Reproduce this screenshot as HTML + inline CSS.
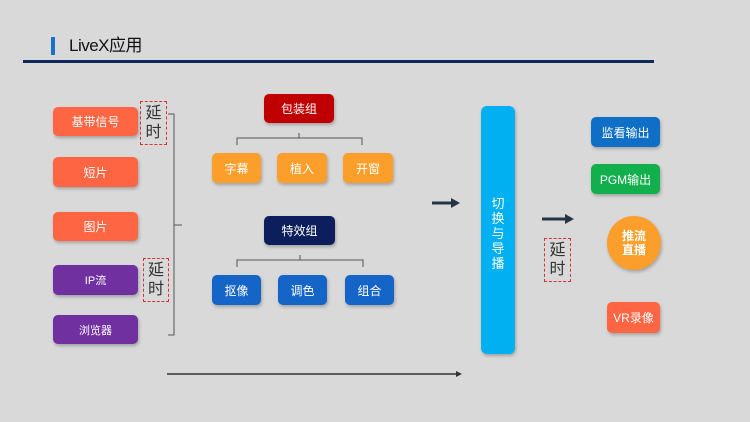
<!DOCTYPE html>
<html><head><meta charset="utf-8">
<style>
*{margin:0;padding:0;box-sizing:border-box}
body{width:750px;height:422px;background:#d9d9d9;position:relative;overflow:hidden;font-family:"Liberation Sans","Noto Sans CJK SC",sans-serif}
.b{position:absolute;display:flex;align-items:center;justify-content:center;color:#fff;border-radius:5px;font-size:12px;box-shadow:1px 2px 3px rgba(0,0,0,0.25)}
.d{position:absolute;border:1.5px dashed #d0333a;color:#333;font-size:16px;display:flex;align-items:center;justify-content:center;text-align:center;line-height:19px}
.o{background:#fe6542}.p{background:#7030a0;font-size:11px}.y{background:#fb9e2b}.bl{background:#1565c8}
</style></head><body>
<div style="position:absolute;left:51px;top:37px;width:4px;height:18px;background:#1873c6"></div>
<div style="position:absolute;left:69px;top:35px;font-size:17px;color:#111;line-height:22px;letter-spacing:-0.5px">LiveX应用</div>
<div style="position:absolute;left:23px;top:60px;width:631px;height:3px;background:#0d2a5c"></div>

<div class="b o" style="left:53px;top:107px;width:85px;height:29px">基带信号</div>
<div class="b o" style="left:53px;top:157px;width:85px;height:30px">短片</div>
<div class="b o" style="left:53px;top:212px;width:85px;height:29px">图片</div>
<div class="b p" style="left:53px;top:265px;width:85px;height:30px">IP流</div>
<div class="b p" style="left:53px;top:315px;width:85px;height:29px">浏览器</div>
<div class="d" style="left:140px;top:101px;width:27px;height:44px">延<br>时</div>
<div class="d" style="left:143px;top:258px;width:26px;height:44px">延<br>时</div>

<div class="b" style="left:264px;top:94px;width:70px;height:29px;background:#c00000">包装组</div>
<div class="b y" style="left:212px;top:153px;width:49px;height:30px">字幕</div>
<div class="b y" style="left:277px;top:153px;width:50px;height:30px">植入</div>
<div class="b y" style="left:343px;top:153px;width:50px;height:30px">开窗</div>
<div class="b" style="left:264px;top:216px;width:71px;height:29px;background:#0c1f5c">特效组</div>
<div class="b bl" style="left:212px;top:275px;width:49px;height:30px">抠像</div>
<div class="b bl" style="left:278px;top:275px;width:49px;height:30px">调色</div>
<div class="b bl" style="left:345px;top:275px;width:49px;height:30px">组合</div>

<div class="b" style="left:481px;top:106px;width:34px;height:248px;background:#00b0f0;border-radius:6px;flex-direction:column;justify-content:flex-start;padding-top:90px;line-height:15px;font-size:13px">切<br>换<br>与<br>导<br>播</div>
<div class="d" style="left:544px;top:238px;width:27px;height:44px">延<br>时</div>

<div class="b" style="left:591px;top:117px;width:69px;height:30px;background:#0f6fc6">监看输出</div>
<div class="b" style="left:591px;top:164px;width:69px;height:30px;background:#12b04c">PGM输出</div>
<div class="b" style="left:607px;top:216px;width:54px;height:54px;border-radius:50%;background:#fb9e2b;font-weight:bold;line-height:14px;font-size:12px;text-align:center">推流<br>直播</div>
<div class="b o" style="left:607px;top:302px;width:53px;height:31px">VR录像</div>

<svg width="750" height="422" style="position:absolute;left:0;top:0" fill="none">
<g stroke="#555" stroke-width="1">
<path d="M168 114H174V335H168M174 225H182"/>
<path d="M237 145V138H362V145M299 138V133"/>
<path d="M237 267V260H363V267M300 260V255"/>
</g>
<g stroke="#263545" stroke-width="3">
<path d="M432 203H451"/><path d="M542 219H566"/>
</g>
<path d="M451 198L460 203L451 208Z" fill="#263545"/>
<path d="M565 214L574 219L565 224Z" fill="#263545"/>
<path d="M167 374H457" stroke="#333" stroke-width="1.5"/>
<path d="M456 371L462 374L456 377Z" fill="#333"/>
</svg>
</body></html>
